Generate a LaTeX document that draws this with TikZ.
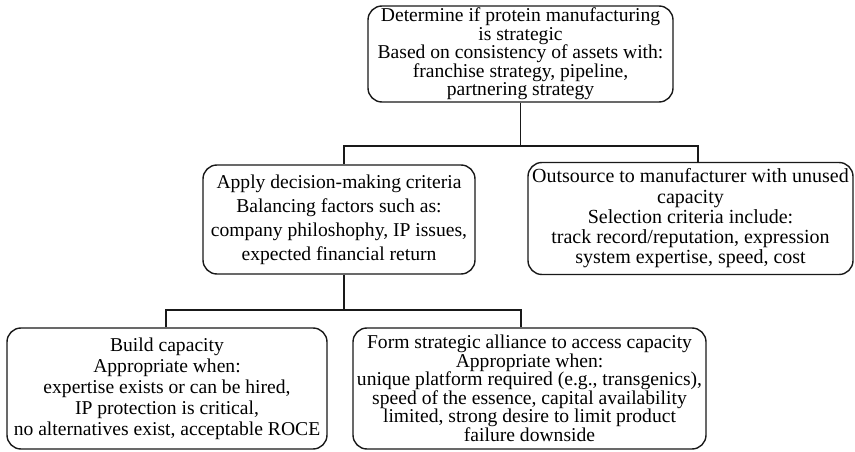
\documentclass[tikz,border=0pt]{standalone}
\usepackage{fontspec}
\setmainfont{Liberation Serif}
\tikzset{
  box/.style={draw=black!90, line width=1.4pt, rounded corners=14pt, align=center,
    inner sep=0pt, text=black},
  link/.style={draw=black!90, line width=1.3pt},
  sptop/.style={font=\fontsize{19.6}{18.4}\selectfont},
  sp185/.style={font=\fontsize{19.6}{18.5}\selectfont},
  sp20/.style={font=\fontsize{20}{20.3}\selectfont},
  sp21/.style={font=\fontsize{19.6}{21}\selectfont},
  sp24/.style={font=\fontsize{19.6}{24}\selectfont}
}
\begin{document}
\begin{tikzpicture}[x=1pt,y=-1pt]
\useasboundingbox (0,0) rectangle (855,452);

\node[box, sptop, minimum width=305pt, minimum height=96pt] (top) at (520.5,54)
  {Determine if protein manufacturing\\is strategic\\Based on consistency of assets with:\\franchise strategy, pipeline,\\partnering strategy};

\node[box, sp24, minimum width=272pt, minimum height=109pt] (ml) at (339,219.5)
  {Apply decision-making criteria\\Balancing factors such as:\\company philoshophy, IP issues,\\expected financial return};

\node[box, sp20, minimum width=325pt, minimum height=112pt] (mr) at (690.5,218.5)
  {Outsource to manufacturer with unused\\capacity\\Selection criteria include:\\track record/reputation, expression\\system expertise, speed, cost};

\node[box, sp21, minimum width=320pt, minimum height=121pt] (bl) at (167,388.5)
  {Build capacity\\Appropriate when:\\expertise exists or can be hired,\\IP protection is critical,\\no alternatives exist, acceptable ROCE};

\node[box, sp185, minimum width=353pt, minimum height=121pt] (br) at (529.5,388.5)
  {Form strategic alliance to access capacity\\Appropriate when:\\unique platform required (e.g., transgenics),\\speed of the essence, capital availability\\limited, strong desire to limit product\\failure downside};

\coordinate (b1) at (344,146);
\coordinate (b2) at (698,146);
\coordinate (c1) at (166,310);
\coordinate (c2) at (521,310);

\draw[link] (top.south) -- (top.south |- b1);
\draw[link] (b1 |- ml.north) -- (b1) -- (b2) -- (b2 |- mr.north);
\draw[link] (b1 |- ml.south) -- (b1 |- c1);
\draw[link] (c1 |- bl.north) -- (c1) -- (c2) -- (c2 |- br.north);
\end{tikzpicture}
\end{document}
